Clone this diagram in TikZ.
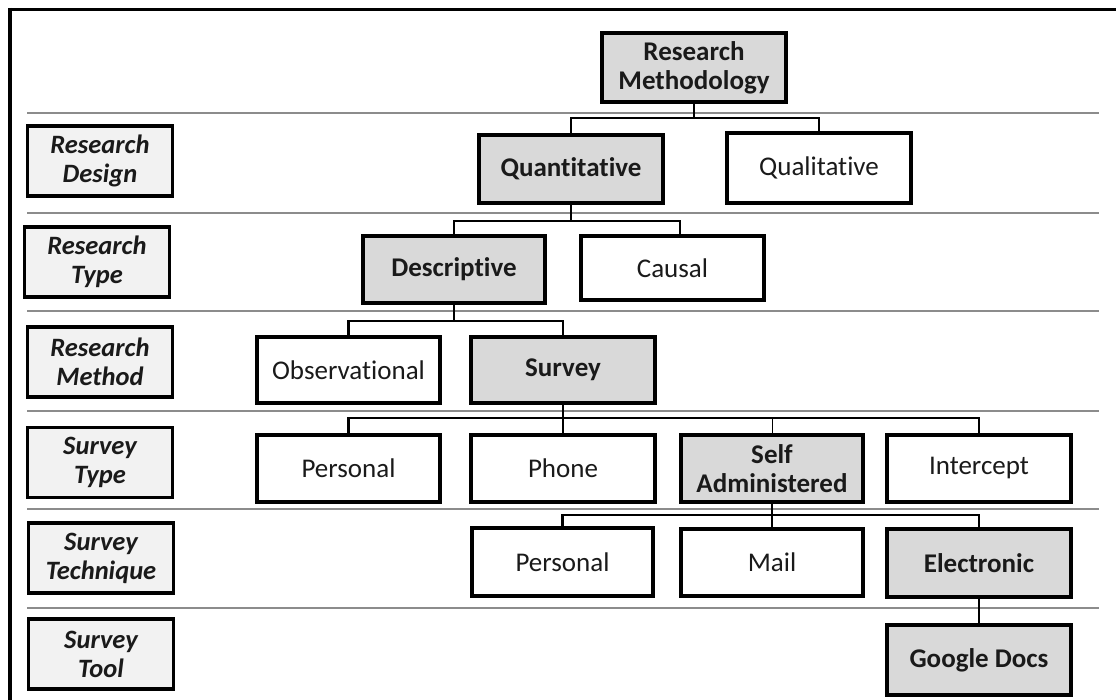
\documentclass[tikz,border=0pt]{standalone}
\usepackage{fontspec}
\setmainfont{Carlito}[Ligatures=NoCommon]
\definecolor{boxgray}{HTML}{D9D9D9}
\definecolor{labgray}{HTML}{F2F2F2}
\definecolor{sepgray}{HTML}{8C8C8C}
\definecolor{txt}{HTML}{1A1A1A}
\begin{document}
\begin{tikzpicture}[x=1pt,y=-1pt,
  base/.style={draw=black, line width=3.2pt, inner sep=0pt, align=center, text=txt,
    font=\fontsize{27}{29}\selectfont},
  hi/.style={base, fill=boxgray, font=\fontsize{27}{29}\selectfont\bfseries},
  lo/.style={base, fill=white},
  lab/.style={base, fill=labgray, font=\fontsize{26.5}{29}\selectfont\bfseries\itshape,
    minimum width=145pt, minimum height=70pt},
  conn/.style={draw=black, line width=2.6pt},
  thinconn/.style={draw=black, line width=1pt},
  sep/.style={draw=sepgray, line width=2pt},
  frame/.style={draw=black, line width=3.5pt}]
\useasboundingbox (0,0) rectangle (1116,700);
\fill[white] (0,0) rectangle (1116,700);
% frame
\draw[frame] (8,9.5) -- (1116,9.5);
\draw[frame] (10,8) -- (10,700);
% separators
\foreach \yy in {113,213,311,411,509,608}
  \draw[sep] (27,\yy) -- (1099,\yy);
% row labels
\node[lab] (l1) at (100,161) {Research\\Design};
\node[lab] (l2) at (97,262) {Research\\Type};
\node[lab] (l3) at (100,362) {Research\\Method};
\node[lab] (l4) at (100,462.5) {Survey\\Type};
\node[lab] (l5) at (101,558) {Survey\\Technique};
\node[lab] (l6) at (101,654) {Survey\\Tool};
% tree nodes
\node[hi, minimum width=184pt, minimum height=69pt] (rm) at (694,67.5) {Research\\Methodology};
\node[hi, minimum width=184pt, minimum height=68pt] (quant) at (571,169) {Quantitative};
\node[lo, minimum width=184pt, minimum height=70pt] (qual) at (819,168) {Qualitative};
\node[hi, minimum width=182pt, minimum height=67pt] (desc) at (454,269.5) {Descriptive};
\node[lo, minimum width=183pt, minimum height=64pt] (causal) at (672.5,268) {Causal};
\node[lo, minimum width=183pt, minimum height=66pt] (obs) at (348.5,370) {Observational};
\node[hi, minimum width=184pt, minimum height=66pt] (survey) at (563,370) {Survey};
\node[lo, minimum width=183pt, minimum height=67pt] (pers) at (348.5,468.5) {Personal};
\node[lo, minimum width=184pt, minimum height=67pt] (phone) at (563,468.5) {Phone};
\node[hi, minimum width=182pt, minimum height=67pt] (selfad) at (772,468.5) {Self\\Administered};
\node[lo, minimum width=184pt, minimum height=67pt] (intercept) at (979,468.5) {Intercept};
\node[lo, minimum width=181pt, minimum height=68pt] (pers2) at (562.5,562) {Personal};
\node[lo, minimum width=182pt, minimum height=67pt] (mail) at (772,562.5) {Mail};
\node[hi, minimum width=184pt, minimum height=68pt] (elec) at (979,563) {Electronic};
\node[hi, minimum width=184pt, minimum height=70pt] (gdocs) at (979,660) {Google Docs};
% buses
\coordinate (b1) at (694,118);
\coordinate (b2) at (571,221);
\coordinate (b3) at (454,321);
\coordinate (b4) at (563,418);
\coordinate (b5) at (772,515);
\coordinate (ctop) at (680,236);
% connectors
\draw[conn] (rm.south) -- (b1);
\draw[conn] (quant.north) |- (b1);
\draw[conn] (qual.north) |- (b1);
\draw[conn] (quant.south) -- (b2);
\draw[conn] (desc.north) |- (b2);
\draw[conn] (ctop) |- (b2);
\draw[conn] (desc.south) -- (b3);
\draw[conn] (obs.north) |- (b3);
\draw[conn] (survey.north) |- (b3);
\draw[conn] (survey.south) -- (phone.north);
\draw[conn] (pers.north) |- (b4);
\draw[conn] (intercept.north) |- (b4);
\draw[thinconn] (selfad.north) -- (selfad.north |- b4);
\draw[conn] (selfad.south) -- (mail.north);
\draw[conn] (pers2.north) |- (b5);
\draw[conn] (elec.north) |- (b5);
\draw[conn] (elec.south) -- (gdocs.north);
\end{tikzpicture}
\end{document}
